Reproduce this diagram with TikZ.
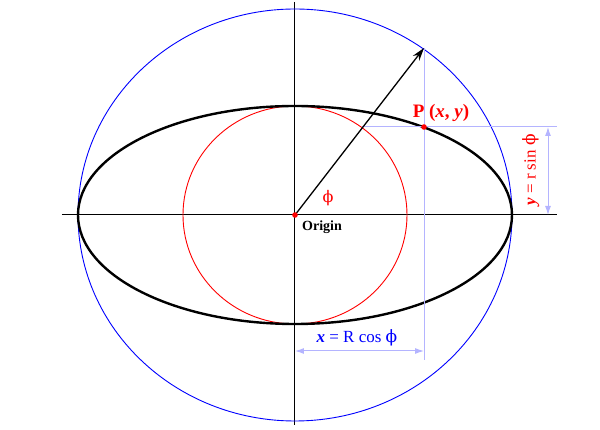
\documentclass[tikz,border=0pt]{standalone}
\usepackage{fontspec}
\setmainfont{Liberation Serif}
\newfontfamily\phifont{DejaVu Serif}
\usetikzlibrary{arrows.meta}
\definecolor{lav}{RGB}{180,180,255}
\definecolor{dblue}{RGB}{0,0,255}
\definecolor{dred}{RGB}{255,0,0}
\newcommand{\phisym}{{\phifont ϕ}}

\begin{document}
\begin{tikzpicture}[x=1pt, y=1pt,
  guide/.style={lav, line width=1pt},
  dimarrow/.style={lav, line width=1pt, {Latex[length=9pt,width=6pt]}-{Latex[length=9pt,width=6pt]}}]

\useasboundingbox (-295,-215) rectangle (305,215);

% axes
\draw[line width=1pt] (-233,0) -- (262,0);
\draw[line width=1pt] (0,213) -- (0,-210);

% circles and ellipse
\draw[dblue, line width=0.9pt] (0,0) ellipse (217 and 206);
\draw[dred, line width=0.9pt] (0,0) ellipse (112 and 109);
\draw[line width=2.4pt] (0,0) ellipse (217 and 109);

\coordinate (O) at (0,0);
\coordinate (T) at (129,167);
\coordinate (P) at (129,88);
\coordinate (Q) at (67,88);

% guide lines
\coordinate (Tb) at (129,-145);
\coordinate (Qe) at (262,88);
\draw[guide] (T) -- (Tb);
\draw[guide] (Q) -- (Qe);

% dimensions
\coordinate (xa) at (0,-136);
\coordinate (xb) at (129,-136);
\coordinate (ya) at (253,0);
\coordinate (yb) at (253,88);
\draw[dimarrow] (xa) -- (xb);
\draw[dimarrow] (ya) -- (yb);

% radius
\draw[line width=1.3pt, -{Stealth[length=13pt,width=8pt]}] (O) -- (T);

\fill[dred] (O) circle (2.8);
\fill[dred] (P) circle (2.8);

% labels
\node[dred, font=\fontsize{16}{16}\selectfont] (phi) at (33,17) {\phisym};
\node[font=\bfseries\fontsize{14}{14}\selectfont] (orig) at (27,-12) {Origin};
\node[dred, font=\bfseries\fontsize{19}{19}\selectfont] (plab) at (146,102) {P (\textit{x}, \textit{y})};
\node[dblue, font=\fontsize{17}{17}\selectfont] (xlab) at (62,-123) {\textbf{\textit{x}} = R cos \phisym};
\node[dred, rotate=90, font=\fontsize{17}{17}\selectfont] (ylab) at (236,45) {\textbf{\textit{y}} = r sin \phisym};

\end{tikzpicture}
\end{document}
